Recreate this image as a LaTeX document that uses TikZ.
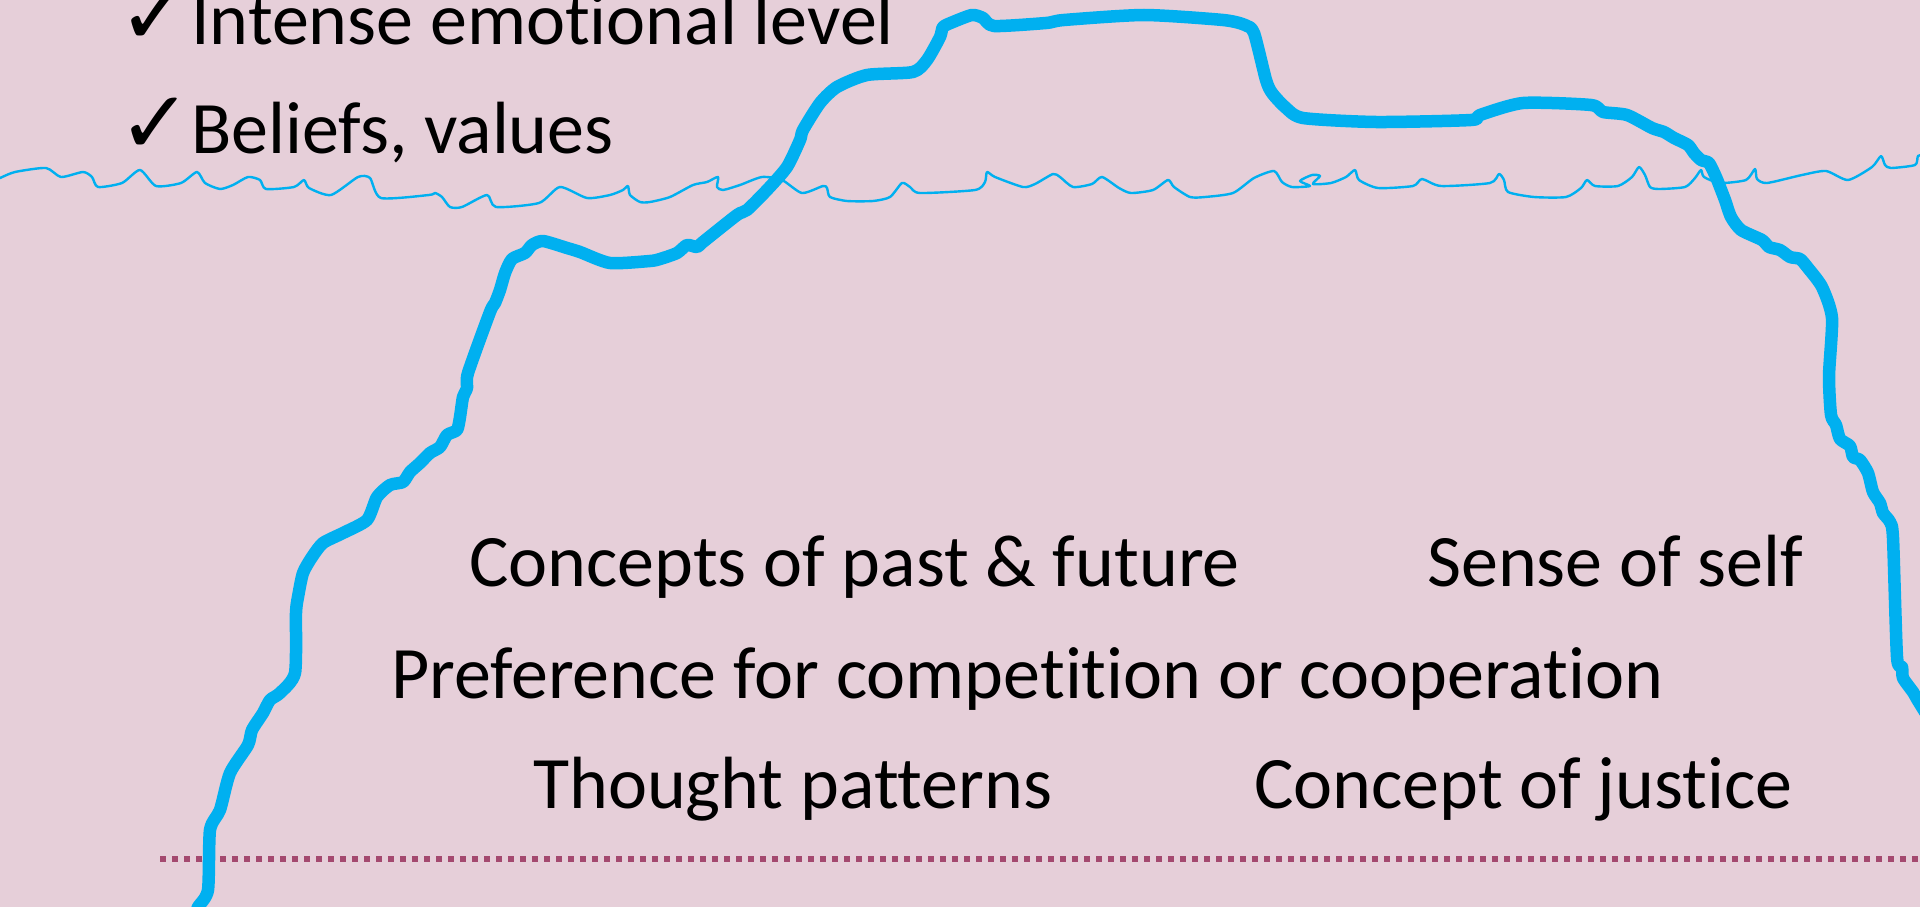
\documentclass[tikz,border=0pt]{standalone}
\usepackage{fontspec}
\setmainfont{Carlito}[Ligatures=NoCommon]
\newfontfamily\symfont{DejaVu Sans}
\usepackage{tikz}
\usetikzlibrary{positioning}
\definecolor{bgpink}{RGB}{230,207,217}
\definecolor{bergblue}{RGB}{0,176,240}
\definecolor{depthpink}{RGB}{164,73,111}
\newcommand{\traitfont}{\fontsize{74}{84}\selectfont}
\newcommand{\tickfont}{\symfont\fontsize{88}{96}\selectfont}
\tikzstyle{trait}=[anchor=base west, inner sep=0pt, text=black, font=\traitfont]
\tikzstyle{tickmark}=[anchor=base west, inner sep=0pt, text=black, font=\tickfont]
\tikzstyle{berg}=[draw=bergblue, line width=12.5pt, line join=round, line cap=round]
\tikzstyle{water}=[draw=bergblue, line width=2.4pt, line join=round]
\tikzstyle{depth}=[draw=depthpink, line width=6pt, dash pattern=on 6pt off 6pt]

\begin{document}
\begin{tikzpicture}[x=1pt, y=-1pt]
        \fill[bgpink] (0,0) rectangle (1920,907);
        \useasboundingbox (0,0) rectangle (1920,907);
        \draw[water] plot[smooth, tension=0.4] coordinates {
            (-5,180) (0,178) (15,172) (46,168) (61,177) (83,172) (92,177) (98,187) (122,183)
            (140,170) (156,186) (181,183) (197,172) (205,183) (220,189) (233,185) (248,177)
            (260,180) (266,189) (294,187) (304,180) (309,188) (331,195) (358,177) (370,178)
            (381,198) (429,195) (435,193) (442,197) (450,207) (462,207) (487,195) (496,207)
            (539,203) (560,187) (587,198) (610,195) (623,190) (628,186) (630,195) (640,202)
            (650,202) (670,197) (693,185) (707,182) (718,177) (717,187) (723,190) (740,185)
            (762,177) (782,180) (802,193) (823,186) (827,188) (830,197) (847,201) (873,201)
            (890,197) (902,183) (910,187) (920,193) (975,190) (985,182) (987,172) (995,177)
            (1023,187) (1035,184) (1053,174) (1060,177) (1073,187) (1092,184) (1102,177)
            (1119,188) (1131,193) (1153,190) (1168,180) (1174,187) (1190,197) (1205,197)
            (1233,193) (1254,178) (1274,171) (1282,182) (1292,187) (1310,186) (1300,181)
            (1312,175) (1320,176) (1313,184) (1331,183) (1346,177) (1355,170) (1359,180)
            (1378,188) (1413,186) (1422,179) (1441,186) (1490,183) (1499,174) (1504,180)
            (1508,192) (1534,197) (1566,197) (1581,188) (1587,180) (1595,186) (1618,186)
            (1632,177) (1639,167) (1645,175) (1650,187) (1659,189) (1685,187) (1695,178)
            (1701,170) (1704,177) (1720,183) (1746,180) (1755,169) (1757,179) (1767,183)
            (1802,175) (1826,171) (1848,180) (1872,167) (1881,156) (1885,165) (1891,168)
            (1915,165) (1918,156) (1925,155)};
        \coordinate (floorL) at (160,859);
        \coordinate (floorR) at (1920,859);
        \draw[depth] (floorL) -- (floorR);
        \node(tickA)[tickmark] at (118,45) {✓};
        \node(intense)[trait] at (191,45) {Intense emotional level};
        \node(tickB)[tickmark] at (118,153) {✓};
        \node(beliefs)[trait] at (191,153) {Beliefs, values};
        \node(pastfuture)[trait] at (469,586) {Concepts of past \& future};
        \node(self)[trait] at (1427,586) {Sense of self};
        \node(competition)[trait] at (391,698) {Preference for competition or cooperation};
        \node(thought)[trait] at (533,808) {Thought patterns};
        \node(justice)[trait] at (1254,808) {Concept of justice};
        \draw[berg] plot[smooth, tension=0.4] coordinates {
            (196,915) (198,907) (208,890) (210,830) (220,810) (230,773) (248,745) (252,730)
            (263,713) (270,700) (280,693) (295,673) (296,613) (298,597) (303,573) (312,557)
            (323,543) (343,533) (367,520) (377,497) (390,485) (403,482) (410,472) (420,463)
            (430,453) (440,447) (447,435) (457,430) (460,417) (463,397) (467,388) (468,373)
            (490,312) (495,303) (500,290) (505,273) (512,259) (525,253) (532,245) (543,241)
            (567,248) (580,252) (610,263) (650,261) (660,259) (677,253) (687,245) (697,247)
            (703,242) (737,215) (747,210) (767,190) (787,167) (800,140) (803,130) (820,103)
            (837,87) (867,75) (913,72) (927,60) (940,37) (943,27) (953,22) (972,15) (983,18)
            (994,26) (1046,23) (1064,20) (1144,15) (1223,20) (1245,25) (1254,33) (1266,80)
            (1272,93) (1285,107) (1303,118) (1376,122) (1471,120) (1480,115) (1523,103)
            (1591,105) (1603,112) (1627,115) (1652,128) (1664,132) (1674,138) (1688,145)
            (1694,153) (1701,160) (1709,163) (1716,177) (1720,187) (1725,200) (1731,217)
            (1741,230) (1762,240) (1769,247) (1780,250) (1790,257) (1800,259) (1808,268)
            (1822,287) (1832,318) (1829,376) (1831,415) (1836,425) (1840,439) (1850,446)
            (1853,457) (1860,460) (1868,473) (1873,492) (1880,503) (1883,513) (1890,522)
            (1893,538) (1897,657) (1902,667) (1903,678) (1913,692) (1917,699) (1925,712)};
    \end{tikzpicture}
\end{document}
